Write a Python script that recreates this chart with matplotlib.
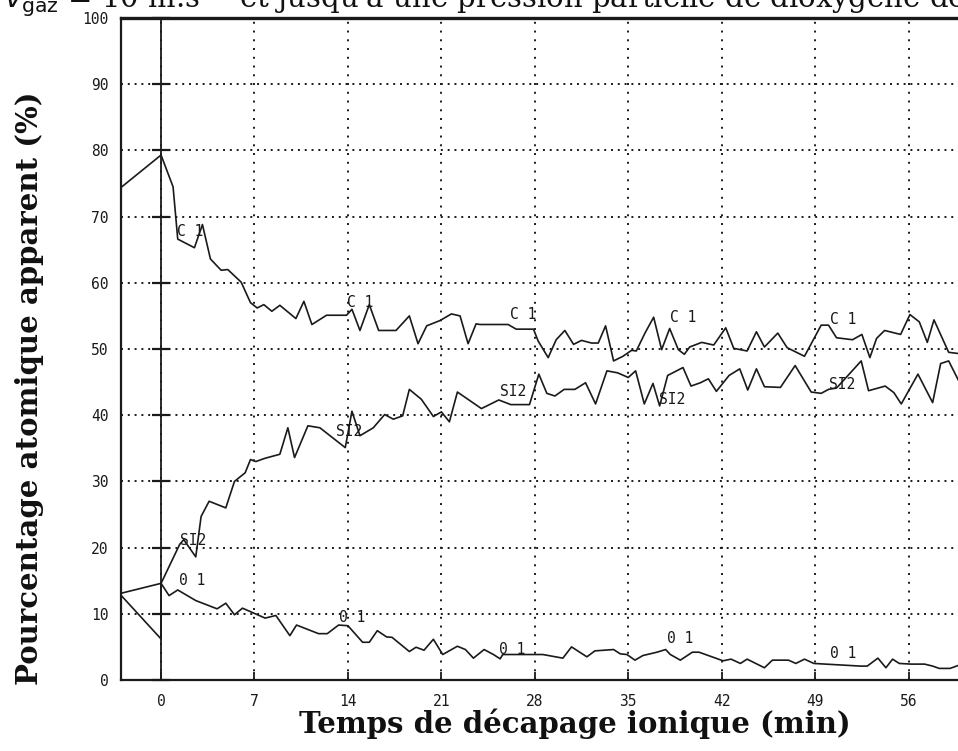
"""Profil XPS : pourcentage atomique apparent vs temps de décapage ionique."""
import matplotlib
matplotlib.use("Agg")
import matplotlib.pyplot as plt
import numpy as np

# ── données ───────────────────────────────────────────────────────────────
c1_t = [-3.0, 0.0, 0.9, 1.1, 1.25, 2.5, 3.1, 3.7, 4.5, 5.0, 6.0, 6.7, 7.2, 7.7,
        8.3, 8.9, 10.1, 10.7, 11.3, 12.4, 13.9, 14.3, 14.9, 15.6, 16.3, 17.6,
        18.6, 19.25, 19.9, 20.9, 21.75, 22.4, 23.0, 23.6, 23.9, 26.0, 26.6,
        27.9, 28.25, 29.0, 29.6, 30.25, 30.9, 31.5, 32.25, 32.75, 33.3, 33.9,
        34.6, 35.25, 35.6, 36.25, 36.9, 37.5, 38.1, 38.75, 39.2, 39.6, 40.5,
        41.4, 42.3, 42.9, 43.9, 44.6, 45.2, 46.2, 46.9, 48.2, 49.45, 50.0,
        50.6, 51.8, 52.5, 53.1, 53.6, 54.2, 55.4, 56.1, 56.8, 57.4, 57.9,
        59.0, 59.8]
c1_v = [74.4, 79.3, 74.5, 70.0, 66.6, 65.3, 68.8, 63.6, 61.9, 62.0, 60.1, 57.0,
        56.2, 56.7, 55.7, 56.6, 54.6, 57.2, 53.7, 55.1, 55.1, 56.0, 52.8, 56.7,
        52.8, 52.8, 55.0, 50.8, 53.5, 54.3, 55.3, 55.0, 50.8, 53.8, 53.7, 53.7,
        53.0, 53.0, 51.2, 48.7, 51.4, 52.8, 50.7, 51.3, 50.9, 50.9, 53.5, 48.2,
        48.9, 49.8, 49.7, 52.4, 54.8, 49.9, 53.1, 49.9, 49.2, 50.3, 51.0, 50.6,
        53.2, 50.1, 49.7, 52.6, 50.3, 52.4, 50.2, 48.9, 53.6, 53.6, 51.7, 51.4,
        52.2, 48.7, 51.6, 52.8, 52.2, 55.2, 54.1, 51.0, 54.4, 49.5, 49.3]

si2_t = [-3.0, 0.0, 0.0, 1.4, 1.7, 2.6, 3.0, 3.6, 4.85, 5.5, 6.3, 6.7, 7.1, 7.8,
         8.9, 9.5, 10.0, 11.0, 11.9, 13.8, 14.3, 14.9, 15.9, 16.75, 17.4, 18.1,
         18.6, 19.5, 20.4, 21.0, 21.6, 22.2, 24.0, 25.3, 26.2, 27.6, 28.3, 28.9,
         29.5, 30.2, 31.0, 31.8, 32.55, 33.4, 34.2, 35.0, 35.55, 36.2, 36.85,
         37.35, 37.95, 39.1, 39.7, 40.4, 41.0, 41.6, 42.55, 43.35, 43.95, 44.6,
         45.2, 46.4, 47.5, 48.7, 49.45, 50.0, 50.6, 52.45, 53.0, 54.25, 54.9,
         55.45, 56.7, 57.8, 58.4, 59.0, 59.8]
si2_v = [12.8, 6.2, 14.6, 20.5, 21.2, 18.6, 24.7, 27.0, 26.0, 30.0, 31.3, 33.3,
         33.0, 33.5, 34.1, 38.1, 33.6, 38.4, 38.1, 35.1, 40.6, 36.9, 38.1, 40.1,
         39.4, 39.9, 43.9, 42.4, 39.8, 40.5, 39.0, 43.5, 41.0, 42.3, 41.6, 41.6,
         46.2, 43.3, 42.9, 43.9, 43.9, 44.9, 41.7, 46.7, 46.4, 45.7, 46.7, 41.7,
         44.8, 41.4, 46.0, 47.2, 44.4, 44.9, 45.5, 43.6, 46.0, 47.0, 43.8, 47.0,
         44.3, 44.2, 47.5, 43.5, 43.3, 43.9, 44.1, 48.2, 43.7, 44.4, 43.4, 41.7,
         46.2, 41.9, 47.8, 48.2, 45.0]

o1_t = [-3.0, 0.0, 0.6, 1.25, 2.6, 4.2, 4.85, 5.5, 6.1, 7.8, 8.6, 9.65, 10.15,
        11.8, 12.45, 13.3, 14.0, 15.1, 15.6, 16.2, 16.9, 17.3, 18.6, 19.1,
        19.7, 20.4, 21.1, 22.2, 22.8, 23.4, 24.2, 24.9, 25.4, 25.6, 28.6, 30.1,
        30.75, 31.9, 32.5, 33.9, 34.4, 34.9, 35.5, 36.1, 37.15, 37.8, 38.15,
        38.9, 39.8, 40.3, 42.1, 42.7, 43.4, 43.9, 45.2, 45.8, 47.0, 47.55,
        48.2, 48.9, 52.4, 52.9, 53.7, 54.3, 54.8, 55.3, 56.2, 57.2, 57.8, 58.3,
        59.1, 60.0]
o1_v = [13.1, 14.6, 12.75, 13.6, 12.0, 10.75, 11.6, 9.85, 10.85, 9.35, 9.75, 6.7,
        8.3, 7.0, 7.0, 8.3, 8.2, 5.7, 5.7, 7.45, 6.5, 6.45, 4.3, 4.95, 4.5,
        6.15, 3.85, 5.1, 4.6, 3.3, 4.6, 3.85, 3.2, 3.85, 3.85, 3.3, 5.0, 3.5,
        4.4, 4.6, 3.95, 3.85, 3.0, 3.7, 4.2, 4.6, 3.85, 3.0, 4.2, 4.2, 2.9,
        3.15, 2.5, 3.15, 1.85, 3.0, 3.0, 2.5, 3.15, 2.5, 2.1, 2.1, 3.3, 1.85,
        3.15, 2.5, 2.4, 2.4, 2.1, 1.75, 1.75, 2.4]

# étiquettes imprimées le long des courbes
c1_lab_t = [2.2, 14.9, 27.1, 39.1, 51.1]
c1_lab_v = [67.7, 57.0, 55.2, 54.8, 54.5]
si2_lab_t = [2.4, 14.1, 26.4, 38.3, 51.0]
si2_lab_v = [21.0, 37.6, 43.6, 42.4, 44.7]
o1_lab_t = [2.3, 14.3, 26.3, 38.9, 51.1]
o1_lab_v = [15.0, 9.5, 4.6, 6.2, 4.0]

x_ticks = [0, 7, 14, 21, 28, 35, 42, 49, 56]
y_ticks = [0, 10, 20, 30, 40, 50, 60, 70, 80, 90, 100]

INK = "#1a1a1a"
MONO = "DejaVu Sans Mono"


def main():
    fig = plt.figure(figsize=(9.58, 7.51), dpi=100)
    ax = fig.add_axes([121 / 958, 71 / 751, 837 / 958, 662 / 751])

    ax.set_xlim(-3.0, 59.7)
    ax.set_ylim(0, 100)

    # grille pointillée façon imprimante matricielle
    ax.set_xticks(x_ticks)
    ax.set_yticks(y_ticks)
    ax.xaxis.grid(True, ls=(0, (1, 3.5)), lw=1.4, color=INK)
    ax.yaxis.grid(True, ls=(0, (1, 2.5)), lw=1.4, color=INK)
    ax.axvline(0, color=INK, lw=1.3)
    ax.plot(np.zeros(len(y_ticks)), y_ticks, ls="none", marker="_",
            ms=13, mew=1.6, color=INK, clip_on=False)

    for t, v in ((c1_t, c1_v), (si2_t, si2_v), (o1_t, o1_v)):
        ax.plot(t, v, color=INK, lw=1.2)

    for lab, ts, vs in (("C 1", c1_lab_t, c1_lab_v),
                        ("SI2", si2_lab_t, si2_lab_v),
                        ("0 1", o1_lab_t, o1_lab_v)):
        for t, v in zip(ts, vs):
            ax.text(t, v, lab, ha="center", va="center", family=MONO,
                    fontsize=10.5, color=INK)

    ax.spines["right"].set_visible(False)
    ax.spines["top"].set_linewidth(2.4)
    ax.spines["left"].set_linewidth(1.6)
    ax.spines["bottom"].set_linewidth(1.6)
    for s in ax.spines.values():
        s.set_color(INK)

    ax.tick_params(axis="x", direction="in", length=6, width=1.3, pad=10,
                   colors=INK, labelsize=10.5)
    ax.tick_params(axis="y", length=0, pad=9, colors=INK, labelsize=10.5)
    for lbl in ax.get_xticklabels() + ax.get_yticklabels():
        lbl.set_family(MONO)

    fig.text(30 / 958, 1 - 388 / 751, "Pourcentage atomique apparent (%)",
             rotation=90, ha="center", va="center", family="DejaVu Serif",
             fontweight="bold", fontsize=21, color="#111")
    fig.text(575 / 958, 1 - 724 / 751, "Temps de décapage ionique (min)",
             ha="center", va="center", family="DejaVu Serif",
             fontweight="bold", fontsize=21, color="#111")

    # ligne de texte coupée en haut du scan
    fig.text(0.004, 1 - 8 / 751,
             r"$v_{\rm gaz}$ = 10 m.s$^{-1}$ et jusqu'à une pression partielle de dioxygène de",
             ha="left", va="baseline", family="DejaVu Serif", fontsize=21,
             color="#111")

    fig.savefig("out.png", dpi=100)
    plt.close(fig)


if __name__ == "__main__":
    main()
